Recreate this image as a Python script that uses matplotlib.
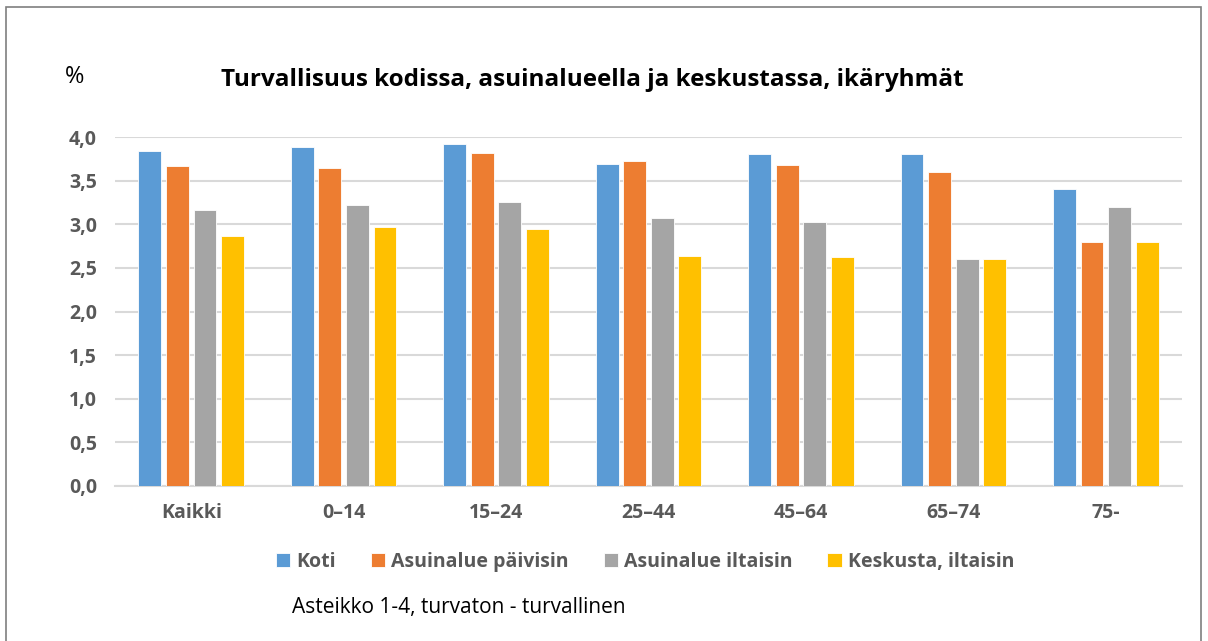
import numpy as np
import matplotlib.pyplot as plt
from matplotlib.patches import Rectangle

plt.rcParams['font.family'] = ['Open Sans', 'DejaVu Sans']

# data
categories = ['Kaikki', '0\u201314', '15\u201324', '25\u201344', '45\u201364', '65\u201374', '75-']
series = ['Koti', 'Asuinalue päivisin', 'Asuinalue iltaisin', 'Keskusta, iltaisin']
koti = [3.84, 3.88, 3.92, 3.69, 3.80, 3.80, 3.40]
asuinalue_paiva = [3.67, 3.65, 3.82, 3.72, 3.68, 3.60, 2.80]
asuinalue_ilta = [3.16, 3.22, 3.26, 3.07, 3.03, 2.60, 3.20]
keskusta_ilta = [2.87, 2.97, 2.95, 2.64, 2.63, 2.60, 2.80]
colors = ['#5b9bd5', '#ed7d31', '#a5a5a5', '#ffc000']

values = [koti, asuinalue_paiva, asuinalue_ilta, keskusta_ilta]

W, H = 1208, 641
fig = plt.figure(figsize=(W / 100, H / 100), dpi=100)
ax = fig.add_axes([115 / W, 1 - 486 / H, (1182 - 115) / W, (486 - 137) / H])

x = np.arange(len(categories))
step = 0.181
bw = 0.150
for i, (vals, c, name) in enumerate(zip(values, colors, series)):
    ax.bar(x + (i - 1.5) * step, vals, width=bw, color=c, label=name,
           edgecolor='white', linewidth=0.6, zorder=3)

ax.set_xlim(-0.5, len(categories) - 0.5)
ax.set_ylim(0, 4.0)
ax.set_yticks(np.arange(0, 4.01, 0.5))
ax.set_yticklabels([f'{v:.1f}'.replace('.', ',') for v in np.arange(0, 4.01, 0.5)],
                   fontweight='bold')
ax.set_xticks(x)
ax.set_xticklabels(categories, fontweight='bold')
ax.grid(axis='y', color='#d9d9d9', linewidth=1.5, zorder=0)
ax.set_axisbelow(True)
for s in ['top', 'right', 'left']:
    ax.spines[s].set_visible(False)
ax.spines['bottom'].set_color('#d9d9d9')
ax.spines['bottom'].set_linewidth(1.5)
ax.tick_params(axis='both', length=0, labelsize=14, labelcolor='#595959')
ax.tick_params(axis='x', pad=12)
ax.tick_params(axis='y', pad=13)

fig.text(592 / W, 1 - 80 / H, 'Turvallisuus kodissa, asuinalueella ja keskustassa, ikäryhmät',
         ha='center', va='center', fontsize=17.5, fontweight='bold', color='black')
fig.text(75 / W, 1 - 77 / H, '%', ha='center', va='center', fontsize=17, color='black')

leg = fig.legend(loc='center', bbox_to_anchor=(645 / W, 1 - 562 / H), ncol=4, frameon=False,
                 prop={'size': 14, 'weight': 'bold'}, handlelength=0.75, handleheight=0.75,
                 handletextpad=0.3, columnspacing=1.8, labelcolor='#595959')

fig.text(292 / W, 1 - 608 / H, 'Asteikko 1-4, turvaton - turvallinen',
         ha='left', va='center', fontsize=15, color='black')

fig.patches.append(Rectangle((6 / W, -0.05), (1201 - 6) / W, 1.05 - 7 / H,
                             transform=fig.transFigure, fill=False,
                             edgecolor='#7f7f7f', linewidth=1.2))

fig.savefig('out.png', dpi=100)
